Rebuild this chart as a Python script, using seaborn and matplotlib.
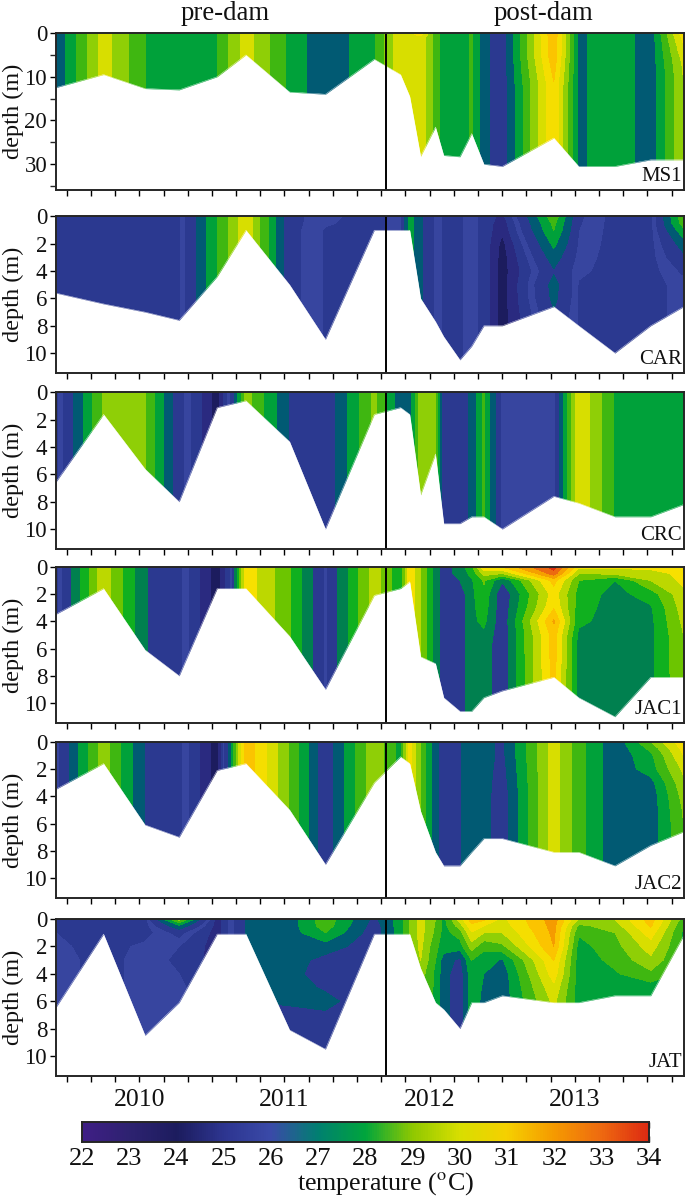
import numpy as np
import seaborn as sns
import matplotlib.pyplot as plt

sns.set_style("ticks")
plt.rcParams["font.family"] = ["Liberation Serif", "DejaVu Serif"]
plt.rcParams["mathtext.fontset"] = "stix"

W, H = 685, 1199

# sampling dates, months since Jan 2010
months = [-6.93, -2.96, 0.47, 3.29, 6.43, 7.62, 8.81, 12.42, 15.38, 19.42, 21.59, 22.35,
          23.25, 24.48, 25.16, 26.5, 27.47, 28.48, 30.0, 34.26, 36.32, 39.31, 42.27, 45.0]
dam_month = 20.43
z_levels = [0, 0.5, 1, 2, 3, 4, 5, 6, 8, 12]

# bottom depth (m) at each date
bed_ms1 = [12.5, 9.5, 12.7, 13, 10, 7.5, 5, 13.5, 14, 6, 9.5, 14.5, 28.2, 21.5, 28, 28.3, 23, 30, 30.5, 24, 30.5, 30.5, 29, 29]
bed_car = [5.6, 6.4, 7.0, 7.6, 4.4, 2.7, 1, 5, 9, 1, 1, 1, 6, 7.7, 8.8, 10.5, 9.5, 8, 8, 6.6, 8, 10, 8, 6.6]
bed_crc = [6.6, 1.6, 5.6, 8, 1.1, 0.85, 0.6, 3.6, 10, 1.6, 1.1, 1.6, 7.5, 4.5, 9.6, 9.6, 9.1, 9.1, 10, 7.6, 8.1, 9.1, 9.1, 8.2]
bed_jac1 = [3.5, 1.6, 6.1, 8, 1.6, 1.6, 1.6, 5.1, 9, 2.1, 1.6, 1.1, 6.6, 7.1, 9.6, 10.6, 10.6, 9.6, 9.1, 8.1, 9.6, 11, 8.1, 8.1]
bed_jac2 = [3.5, 1.6, 6.1, 7, 2.1, 1.85, 1.6, 5, 9, 3, 1.1, 1.6, 5.1, 8.1, 9.1, 9.1, 8.1, 7.1, 7.1, 8.1, 8.1, 9.1, 7.6, 6.6]
bed_jat = [6.5, 1.1, 8.5, 6.1, 1.1, 1.1, 1.1, 8.1, 9.5, 1.1, 1.1, 1.1, 3.6, 6.1, 6.6, 8, 6.1, 6.1, 5.6, 6.1, 6.1, 5.6, 5.6, 1.2]

# temperature per date, mixed water column
temp_ms1 = [26.7, 30.2, 28.2, 28.0, 28.15, 29.2, 30.2, 28.0, 26.7, 28.1, 30.4, 30.4, 30.5, 28.6, 27.8, 27.6, 28.3, 26.85, 26.1, 32.0, 27.2, 28.0, 26.9, 30.4]
temp_car = [25.1, 25.1, 25.2, 25.3, 28.2, 29.3, 30.5, 26.0, 25.35, 25.2, 25.6, 27.8, 26.7, 25.7, 25.3, 25.3, 25.6, 25.2, 23.9, 26.4, 25.35, 25.2, 25.2, 25.6]
temp_crc = [25.2, 29.1, 29.05, 26.1, 23.9, 26.0, 29.4, 26.55, 26.0, 29.2, 26.9, 27.0, 29.5, 29.4, 26.0, 26.0, 26.9, 28.4, 25.6, 25.6, 30.55, 28.15, 28.0, 28.0]
temp_jac1 = [25.2, 29.5, 26.65, 25.9, 23.9, 25.6, 30.3, 28.3, 25.65, 29.4, 27.6, 30.4, 29.0, 27.0, 26.1, 26.1, 27.2, 27.0, 26.0, 31.0, 27.0, 27.0, 27.2, 28.9]
temp_jac2 = [25.5, 29.4, 26.55, 25.9, 23.9, 27.4, 32.1, 28.9, 26.0, 29.6, 27.9, 31.0, 28.9, 26.9, 26.2, 26.55, 26.9, 26.9, 26.1, 30.2, 28.5, 26.8, 26.9, 29.0]
temp_jat = [25.6, 25.2, 25.6, 25.4, 24.5, 25.6, 26.6, 26.9, 26.5, 26.1, 27.8, 29.0, 29.4, 28.0, 26.9, 26.1, 27.8, 27.2, 26.9, 30.0, 27.8, 27.8, 27.8, 28.0]

# dates with a real vertical profile: date index -> value at each z level
prof_ms1 = {12: [31.0, 30.7, 30.4, 30.4, 30.4, 30.4, 30.4, 30.4, 30.4, 30.4],
            19: [32.1, 32.1, 32.0, 32.0, 32.0, 32.0, 32.0, 31.9, 31.7, 31.3],
            23: [31.2, 31.0, 30.9, 30.7, 30.5, 30.4, 30.2, 30.1, 29.9, 29.8]}
prof_car = {8: [25.5, 25.45, 25.35, 25.35, 25.35, 25.35, 25.35, 25.35, 25.35, 25.35],
            18: [24.6, 24.4, 24.3, 24.0, 23.9, 23.9, 23.9, 23.9, 23.9, 23.9],
            19: [28.7, 28.4, 28.2, 27.6, 27.0, 26.5, 26.9, 26.8, 26.3, 26.3],
            20: [25.9, 25.85, 25.8, 25.7, 25.6, 25.5, 25.35, 25.35, 25.35, 25.35],
            23: [28.8, 28.6, 28.0, 27.0, 26.4, 25.9, 25.6, 25.6, 25.6, 25.6]}
prof_jac1 = {15: [27.0, 27.0, 26.6, 26.1, 26.1, 26.1, 26.1, 26.1, 26.1, 26.1],
             16: [28.0, 27.6, 27.3, 27.2, 27.2, 27.2, 27.2, 27.2, 27.2, 27.2],
             17: [30.4, 29.3, 28.3, 28.0, 27.8, 27.6, 27.2, 27.0, 27.0, 27.0],
             18: [30.7, 29.0, 26.7, 25.9, 26.0, 26.0, 26.0, 26.0, 26.0, 26.0],
             19: [33.4, 32.6, 30.9, 30.2, 30.5, 31.5, 31.0, 31.0, 30.9, 30.9],
             20: [30.0, 29.0, 28.2, 27.9, 27.8, 27.6, 27.2, 27.0, 27.0, 27.0],
             21: [30.0, 29.2, 27.4, 27.1, 27.0, 27.0, 27.0, 27.0, 27.0, 27.0],
             22: [30.1, 29.4, 29.0, 27.8, 27.3, 27.2, 27.2, 27.2, 27.2, 27.2],
             23: [30.3, 30.1, 30.0, 29.6, 29.4, 29.2, 29.0, 29.0, 28.9, 28.9]}
prof_jac2 = {18: [26.4, 26.4, 26.4, 26.3, 26.2, 26.1, 26.1, 26.1, 26.1, 26.1],
             22: [29.0, 28.4, 28.0, 27.8, 27.1, 26.9, 26.9, 26.9, 26.9, 26.9],
             23: [31.2, 30.9, 30.6, 30.0, 29.6, 29.3, 29.1, 29.0, 29.0, 29.0]}
prof_jat = {0: [25.2, 25.2, 25.4, 25.5, 25.6, 25.6, 25.6, 25.6, 25.6, 25.6],
            2: [25.2, 25.15, 25.2, 25.5, 25.6, 25.6, 25.6, 25.6, 25.6, 25.6],
            3: [29.4, 27.2, 26.0, 25.4, 25.3, 25.4, 25.6, 25.6, 25.6, 25.6],
            7: [27.0, 27.0, 27.0, 27.0, 27.0, 27.0, 26.9, 26.7, 26.1, 26.1],
            8: [28.7, 28.6, 28.2, 27.0, 26.3, 26.0, 26.5, 26.8, 26.2, 25.9],
            9: [26.4, 26.2, 26.1, 26.1, 26.1, 26.1, 26.1, 26.1, 26.1, 26.1],
            12: [30.1, 30.1, 30.1, 30.0, 29.8, 29.4, 29.2, 29.2, 29.2, 29.2],
            13: [29.0, 28.9, 28.8, 28.4, 28.2, 28.0, 28.0, 28.0, 28.0, 28.0],
            14: [27.9, 27.9, 27.9, 27.8, 27.0, 26.9, 26.9, 26.9, 26.9, 26.9],
            15: [30.2, 29.4, 28.6, 27.8, 26.4, 26.1, 26.1, 26.1, 26.1, 26.1],
            16: [31.8, 31.2, 30.5, 29.4, 28.2, 27.9, 27.8, 27.8, 27.8, 27.8],
            17: [31.6, 30.6, 29.8, 28.4, 27.8, 27.4, 27.3, 27.2, 27.2, 27.2],
            18: [30.4, 30.2, 29.8, 28.8, 27.3, 26.9, 26.9, 26.9, 26.9, 26.9],
            19: [32.6, 32.5, 32.4, 32.2, 31.4, 31.0, 30.4, 30.0, 30.0, 30.0],
            20: [29.8, 28.8, 28.3, 27.9, 27.8, 27.8, 27.8, 27.8, 27.8, 27.8],
            21: [29.8, 29.4, 29.0, 28.7, 28.4, 28.1, 27.9, 27.8, 27.8, 27.8],
            22: [31.8, 31.5, 31.0, 30.2, 29.6, 28.8, 27.8, 27.8, 27.8, 27.8],
            23: [28.6, 28.2, 28.0, 28.0, 28.0, 28.0, 28.0, 28.0, 28.0, 28.0]}

levels = [22.2, 23.4, 24.2, 24.8, 25.4, 25.8, 26.6, 27.4, 28.2, 29.0, 29.8, 30.6, 31.4, 32.2, 33.0, 33.8, 34.6]
band_colors = ["#2A1F78", "#1C1C5E", "#2A2A80", "#2B3990", "#37459F", "#2B3990", "#015A73", "#00A13A",
               "#3FB711", "#8FCF06", "#D8DE00", "#F5DE00", "#FBC400", "#F59B00", "#E8501A", "#D92B10"]
band_colors_jac1 = ["#2A1F78", "#1C1C5E", "#2A2A80", "#2B3990", "#37459F", "#2B3990", "#00804F", "#10B01F",
                    "#6CC500", "#BCD800", "#F7E000", "#FCC600", "#F5A000", "#EC6A10", "#DE3010", "#D92B10"]

bar_stops = ["#3F1E85", "#2D2270", "#1C1C5E", "#2D3590", "#3A4AA8", "#008070", "#00A53C",
             "#8FC800", "#D8DE00", "#F5D000", "#F59A00", "#EE6A10", "#DD2A12"]
bar_ticks = list(range(22, 35))
years = [2010, 2011, 2012, 2013]

panels = [("MS1", bed_ms1, temp_ms1, prof_ms1, 35.9, 33, 190, list(range(0, 31, 10)), band_colors),
          ("CAR", bed_car, temp_car, prof_car, 11.46, 216.5, 373, list(range(0, 11, 2)), band_colors),
          ("CRC", bed_crc, temp_crc, {}, 11.46, 392.5, 549, list(range(0, 11, 2)), band_colors),
          ("JAC1", bed_jac1, temp_jac1, prof_jac1, 11.46, 566.7, 723, list(range(0, 11, 2)), band_colors_jac1),
          ("JAC2", bed_jac2, temp_jac2, prof_jac2, 11.46, 741.7, 898, list(range(0, 11, 2)), band_colors),
          ("JAT", bed_jat, temp_jat, prof_jat, 11.46, 919, 1076, list(range(0, 11, 2)), band_colors)]


def px_axes(fig, left, top, right, bottom):
    return fig.add_axes([left / W, 1 - bottom / H, (right - left) / W, (bottom - top) / H])


fig = plt.figure(figsize=(W / 100, H / 100), dpi=100)
x_ticks = np.arange(-6, 46, 2)

for name, bed, temp, prof, ymax, top, bottom, yticks, cols in panels:
    ax = px_axes(fig, 55.5, top, 683.7, bottom)
    grid = np.tile(temp, (len(z_levels) + 1, 1))
    for idx, vals in prof.items():
        grid[:-1, idx] = vals
        grid[-1, idx] = vals[-1]
    ax.contourf(months, z_levels + [max(ymax, 13)], grid, levels=levels, colors=cols)
    ax.fill_between(months, bed, max(ymax, 13), color="white", lw=0, zorder=2)
    sns.lineplot(x=months, y=bed, color="white", lw=0.25, errorbar=None, ax=ax, zorder=2)
    ax.axvline(dam_month, color="black", lw=1.4, zorder=4)
    ax.set_xlim(months[0], months[-1])
    ax.set_ylim(ymax, 0)
    ax.set_yticks(yticks)
    if name == "MS1":
        ax.set_yticks([5, 15, 25, 35], minor=True)
        ax.tick_params(axis="y", which="minor", length=4.5, width=1)
    ax.set_xticks(x_ticks)
    ax.set_xticklabels([])
    ax.tick_params(axis="both", which="major", length=4.5, width=1, labelsize=16.5, pad=1.5, color="black", labelcolor="#111111")
    ax.set_ylabel("depth (m)", fontsize=17.5, labelpad=0.5, color="#111111")
    ax.set_xlabel("")
    ax.text(0.997, 0.025, name, transform=ax.transAxes, ha="right", va="bottom", fontsize=15, color="#111111", zorder=5)
    for s in ax.spines.values():
        s.set_linewidth(1.4)
        s.set_zorder(5)

ax.set_xticklabels([str(2010 + int(m) // 12) if m % 12 == 0 else "" for m in x_ticks], fontsize=18.5)
ax.tick_params(axis="x", pad=5)

fig.text(225 / W, 1 - 13 / H, "pre-dam", ha="center", va="center", fontsize=19.3, color="#111111")
fig.text(543 / W, 1 - 13 / H, "post-dam", ha="center", va="center", fontsize=19.3, color="#111111")

# colour scale
cax = px_axes(fig, 82, 1122, 649, 1142)
ramp = np.linspace(bar_ticks[0], bar_ticks[-1], 256)[None, :]
bar_cmap = sns.blend_palette(bar_stops, n_colors=256, as_cmap=True)
sns.heatmap(ramp, cmap=bar_cmap, vmin=22, vmax=34, cbar=False, xticklabels=False, yticklabels=False, ax=cax)
cax.set_xticks((np.array(bar_ticks) - 22) / 12 * ramp.shape[1])
cax.set_xticklabels([str(t) for t in bar_ticks], rotation=0, fontsize=19, color="#111111")
cax.set_yticks([])
cax.tick_params(axis="x", direction="in", top=True, bottom=True, length=4.5, width=1, pad=4.5, color="black")
for s in cax.spines.values():
    s.set_visible(True)
    s.set_linewidth(1.4)
fig.text(385 / W, 1 - 1184 / H, "temperature ($^{\\mathrm{o}}$C)", ha="center", va="center", fontsize=18.7, color="#111111")

fig.savefig("out.png", dpi=100)
